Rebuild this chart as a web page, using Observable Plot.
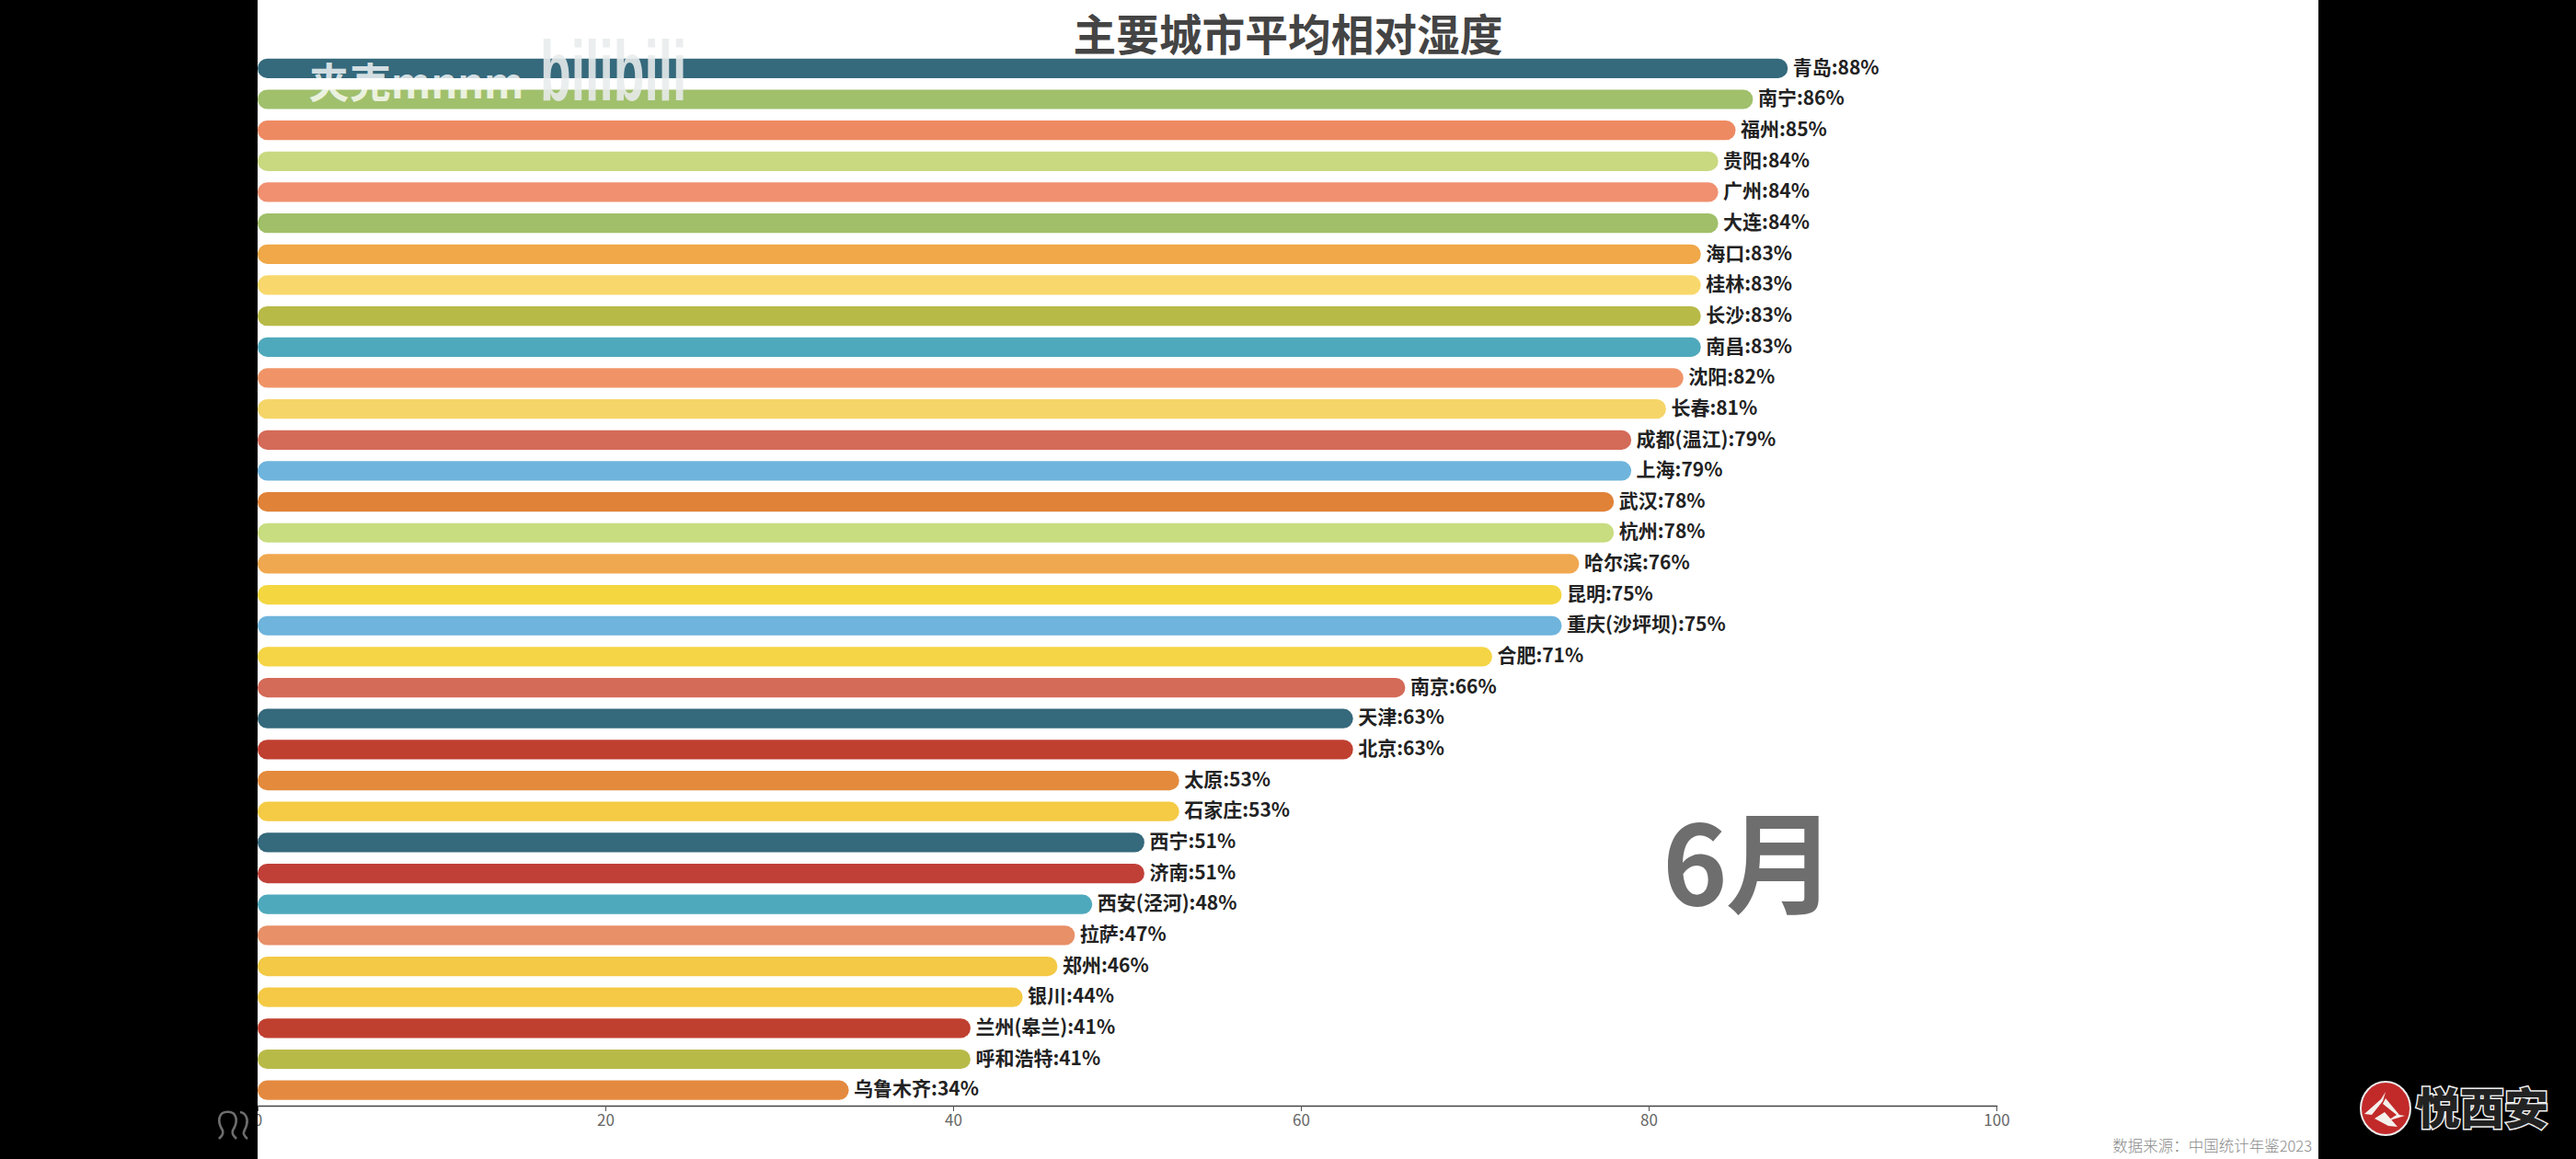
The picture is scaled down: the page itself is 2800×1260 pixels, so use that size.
<!DOCTYPE html>
<html lang="zh">
<head>
<meta charset="utf-8">
<script src="https://cdn.jsdelivr.net/npm/d3@7"></script>
<script src="https://cdn.jsdelivr.net/npm/@observablehq/plot@0.6"></script>
<style>
html,body{margin:0;padding:0;background:#000;width:2800px;height:1260px;overflow:hidden;font-family:"Noto Sans CJK SC","Noto Sans",sans-serif}
#stage{position:absolute;left:280px;top:0;width:2240px;height:1260px;background:#fff}
#chart{position:absolute;left:0;top:0;width:2800px;height:1260px}
#chart svg{background:transparent;display:block}
.side{position:absolute;top:0;height:1260px;background:#000}
.abs{position:absolute;white-space:nowrap}
#title{left:1166px;top:3px;width:468px;text-align:center;font-size:46.7px;line-height:64px;font-weight:700;color:#444}
#month{left:1807px;top:852px;font-size:120px;line-height:160px;font-weight:700;color:#6e6e6e;letter-spacing:-2px}
#source{right:287px;top:1233px;font-size:16.5px;line-height:24px;color:#8a8a8a;font-weight:300}
#wm{left:335px;top:58px;font-size:45px;line-height:60px;font-weight:700;color:#fff;opacity:.78}
#wm2{left:587px;top:22px;font-size:92px;line-height:110px;font-weight:700;color:#e9ecec;opacity:.88;transform-origin:left top;transform:scaleX(.6);font-family:"Liberation Sans"}
</style>
</head>
<body>
<div id="stage"></div>
<div id="chart"></div>
<div class="side" style="left:0;width:280px"></div>
<div class="side" style="left:2520px;width:280px"></div>
<div id="title" class="abs"></div>
<div id="month" class="abs"></div>
<div id="source" class="abs"></div>
<div id="wm" class="abs"></div>
<div id="wm2" class="abs"></div>
<svg class="abs" style="left:232px;top:1204px" width="44" height="38" viewBox="0 0 44 38">
  <path d="M6 34c3-3 5-5 4-9C7 20 5 15 7 10c2-7 15-7 17 0 2 5 0 10-3 15-1 4 1 6 4 9" fill="none" stroke="#6e6e6e" stroke-width="2.6"/>
  <path d="M29 5c6 1 9 7 7 14-1 5-4 7-3 10 1 2 2 4 4 5" fill="none" stroke="#6e6e6e" stroke-width="2.6"/>
</svg>
<svg class="abs" style="left:2560px;top:1166px" width="230" height="80" viewBox="0 0 230 80">
  <ellipse cx="33" cy="39" rx="27" ry="29" fill="#c22a2a" stroke="#eee" stroke-width="2"/>
  <path d="M10 45 L28 29 L33 21 L30 31 L18 46 Z M33 28 L48 46 L54 47 L34 53 L45 46 L30 34 Z M21 50 L32 43 L46 59 L36 58 Z" fill="#f4f0ec"/>
  <text x="66" y="56" font-size="47" font-weight="900" fill="#222" stroke="#eee" stroke-width="3" style="paint-order:stroke" font-family="Noto Sans CJK SC" textLength="144" lengthAdjust="spacingAndGlyphs">悦西安</text>
</svg>
<script>
const cities = ["青岛","南宁","福州","贵阳","广州","大连","海口","桂林","长沙","南昌","沈阳","长春","成都(温江)","上海","武汉","杭州","哈尔滨","昆明","重庆(沙坪坝)","合肥","南京","天津","北京","太原","石家庄","西宁","济南","西安(泾河)","拉萨","郑州","银川","兰州(皋兰)","呼和浩特","乌鲁木齐"];
const humidity = [88,86,85,84,84,84,83,83,83,83,82,81,79,79,78,78,76,75,75,71,66,63,63,53,53,51,51,48,47,46,44,41,41,34];
const barColors = ["#35697c","#a0c06c","#ee8a62","#c8d980","#f09070","#a0bf68","#f0a848","#f8d86c","#b8ba48","#4fa9bc","#f09468","#f5d568","#d46a58","#6eb4dc","#e08238","#c8dc80","#f0a850","#f3d640","#6eb4dc","#f5d545","#d46a58","#35697c","#c04030","#e48a3c","#f5cb45","#35697c","#c04038","#4fa9bc","#e89068","#f3c945","#f5c945","#c04030","#b8ba48","#e48a40"];
const xTicks = [0,20,40,60,80,100];
const titleText = "主要城市平均相对湿度";
const monthText = "6月";
const sourceText = "数据来源：中国统计年鉴2023";
const watermarkText = "夹克mnnm";
const watermarkLogo = "bilibili";

document.getElementById("title").textContent = titleText;
document.getElementById("month").textContent = monthText;
document.getElementById("source").textContent = sourceText;
document.getElementById("wm").textContent = watermarkText;
document.getElementById("wm2").textContent = watermarkLogo;

const rows = cities.map((city,i)=>({city,value:humidity[i],color:barColors[i]}));

const plot = Plot.plot({
  width:2800,height:1260,
  marginLeft:280,marginRight:630,marginTop:57.5,marginBottom:58,
  style:{fontFamily:'"Noto Sans CJK SC","Noto Sans",sans-serif',background:"transparent"},
  x:{domain:[0,100]},
  y:{domain:cities,paddingInner:0.37,paddingOuter:0.185,round:false,axis:null},
  marks:[
    Plot.barX(rows,{x:"value",y:"city",fill:"color",rx:10.5}),
    Plot.text(rows,{x:"value",y:"city",text:d=>`${d.city}:${d.value}%`,textAnchor:"start",dx:5,dy:-1,fontSize:21,fontWeight:700,fill:"#222"}),
    Plot.frame({anchor:"bottom",stroke:"#444",strokeWidth:1.5}),
    Plot.axisX({ticks:xTicks,tickSize:6,tickPadding:3,label:null,fontSize:17,color:"#666",stroke:"#555"})
  ]
});
document.getElementById("chart").appendChild(plot);
</script>
</body>
</html>
